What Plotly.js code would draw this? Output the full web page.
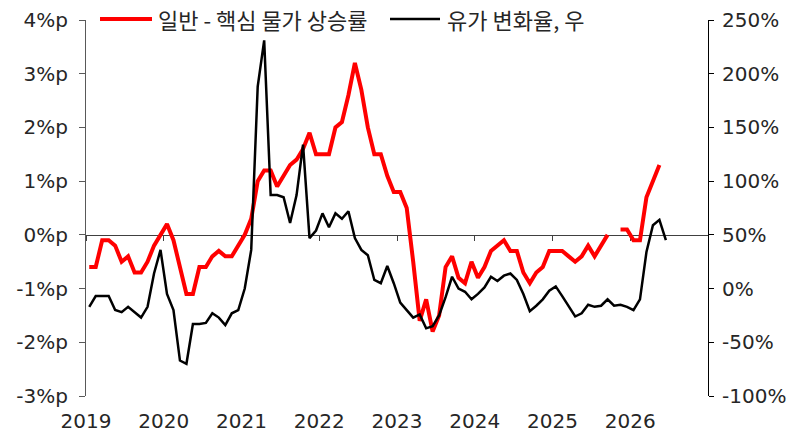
<!DOCTYPE html>
<html>
<head>
<meta charset="utf-8">
<script src="https://cdn.plot.ly/plotly-3.0.1.min.js"></script>
<style>html,body{margin:0;padding:0;background:#fff;}#chart{width:793px;height:435px;}</style>
</head>
<body>
<div id="chart"></div>
<script>
// Monthly data, Jan 2019 onward
const startYear = 2019;
const seriesNames = ['일반 - 핵심 물가 상승률', '유가 변화율, 우'];
const seriesColors = ['#ff0000', '#000000'];

// General - core inflation gap (%p), left axis
const gapValues = [
  -0.6,-0.6,-0.1,-0.1,-0.2,-0.5,-0.4,-0.7,-0.7,-0.5,-0.2,0.0,
  0.2,-0.1,-0.6,-1.1,-1.1,-0.6,-0.6,-0.4,-0.3,-0.4,-0.4,-0.2,
  0.0,0.3,1.0,1.2,1.2,0.9,1.1,1.3,1.4,1.6,1.9,1.5,
  1.5,1.5,2.0,2.1,2.6,3.2,2.7,2.0,1.5,1.5,1.1,0.8,
  0.8,0.5,-0.5,-1.6,-1.2,-1.8,-1.5,-0.6,-0.4,-0.8,-0.9,-0.5,
  -0.8,-0.6,-0.3,-0.2,-0.1,-0.3,-0.3,-0.7,-0.9,-0.7,-0.6,-0.3,
  -0.3,-0.3,-0.4,-0.5,-0.4,-0.2,-0.4,-0.2,0.0,null,0.1,0.1,
  -0.1,-0.1,0.7,1.0,1.3
];

// Oil price change rate (%), right axis
const oilValues = [
  -17,-7,-7,-7,-20,-22,-17,-22,-27,-17,14,36,
  -5,-20,-67,-70,-33,-33,-32,-23,-27,-34,-23,-20,
  0,36,188,231,87,87,85,61,87,134,47,54,
  70,57,70,65,72,47,36,31,8,5,21,5,
  -13,-20,-27,-24,-37,-35,-25,-8,11,0,-3,-10,
  -5,1,11,7,12,14,8,-5,-21,-16,-10,-2,
  2,-7,-16,-26,-23,-15,-17,-16,-10,-16,-15,-17,
  -20,-10,34,59,64,45
];

const yearTicks = [2019,2020,2021,2022,2023,2024,2025,2026];
const yearLabels = ['2019','2020','2021','2022','2023','2024','2025','2026'];
const leftTicks = [-3,-2,-1,0,1,2,3,4];
const leftLabels = ['-3%p','-2%p','-1%p','0%p','1%p','2%p','3%p','4%p'];
const rightTicks = [-100,-50,0,50,100,150,200,250];
const rightLabels = ['-100%','-50%','0%','50%','100%','150%','200%','250%'];

// month positions (centre of each month slot)
function monthX(n){ const a=[]; for(let i=0;i<n;i++){ a.push(startYear + (i+0.5)/12); } return a; }

const FONT = '"DejaVu Sans", "Noto Sans CJK KR", sans-serif';
const TXT = '#262626';

const W = 793, H = 435, ML = 86, MR = 85, MT = 20, MB = 39;
const PW = W - ML - MR, PH = H - MT - MB;
const px = v => (v - ML) / PW;           // pixel -> paper x
const py = v => (H - MB - v) / PH;       // pixel -> paper y

const traces = [
  {x: monthX(gapValues.length), y: gapValues, name: seriesNames[0], type:'scatter', mode:'lines',
   line:{color:seriesColors[0], width:4}, connectgaps:false, xaxis:'x', yaxis:'y', showlegend:false},
  {x: monthX(oilValues.length), y: oilValues, name: seriesNames[1], type:'scatter', mode:'lines',
   line:{color:seriesColors[1], width:2.5}, xaxis:'x2', yaxis:'y2', showlegend:false}
];

// Legend (drawn as sample lines + text)
const legendY = 19;
const legendItems = [
  {x0:100, x1:152, tx:156, w:4},
  {x0:390, x1:440, tx:445, w:2.5}
];
const shapes = legendItems.map((it,i)=>({type:'line', xref:'paper', yref:'paper',
  x0:px(it.x0), x1:px(it.x1), y0:py(legendY), y1:py(legendY), line:{color:seriesColors[i], width:it.w}}));
const annotations = legendItems.map((it,i)=>({xref:'paper', yref:'paper', x:px(it.tx), y:py(legendY),
  xanchor:'left', yanchor:'middle', text:seriesNames[i], showarrow:false,
  font:{family:'"Noto Sans CJK KR", sans-serif', size:22, color:TXT}}));

const layout = {
  width:W, height:H,
  margin:{l:ML, r:MR, t:MT, b:MB, pad:0, autoexpand:false},
  paper_bgcolor:'#fff', plot_bgcolor:'rgba(0,0,0,0)',
  font:{family:FONT, size:20, color:TXT},
  showlegend:false,
  shapes: shapes,
  annotations: annotations,
  xaxis:{range:[2019,2027], tickvals:yearTicks, ticktext:yearLabels, showgrid:false, zeroline:false,
         showline:false, ticks:'', ticklabelstandoff:11, tickfont:{family:FONT,size:20,color:TXT}},
  xaxis2:{range:[2019,2027], overlaying:'x', anchor:'free', position:3/7, tickvals:yearTicks,
          showticklabels:false, showgrid:false, zeroline:false, showline:true, linecolor:'#404040',
          linewidth:1, ticks:'outside', ticklen:5, tickcolor:'#404040', tickwidth:1, layer:'below traces'},
  yaxis:{range:[-3,4], tickvals:leftTicks, ticktext:leftLabels, showgrid:false, zeroline:false,
         showline:true, linecolor:'#595959', linewidth:1, ticks:'outside', ticklen:6, tickcolor:'#595959',
         ticklabelstandoff:7, tickfont:{family:FONT,size:20,color:TXT}},
  yaxis2:{range:[-100,250], overlaying:'y', side:'right', anchor:'x2', tickvals:rightTicks, ticktext:rightLabels,
          showgrid:false, zeroline:false, showline:true, linecolor:'#000000', linewidth:1, ticks:'outside',
          ticklen:5, tickcolor:'#000000', ticklabelstandoff:4, tickfont:{family:FONT,size:20,color:TXT}}
};

Plotly.newPlot('chart', traces, layout, {staticPlot:true, displayModeBar:false});
</script>
</body>
</html>
